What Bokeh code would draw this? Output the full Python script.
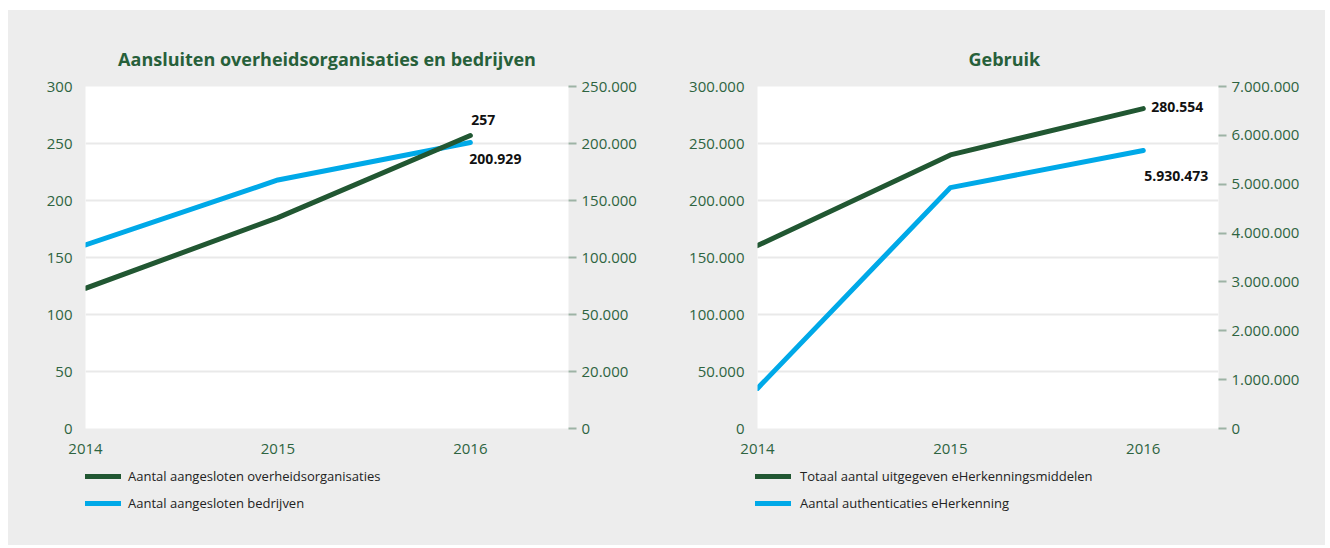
from bokeh.plotting import figure
from bokeh.models import Range1d, LinearAxis, FixedTicker, Legend, LegendItem
from bokeh.layouts import row, column
from bokeh.embed import file_html
from bokeh.resources import INLINE
from bokeh.core.properties import value

# ---------------- data ----------------
years = [2014, 2015, 2016]

# Chart 1: Aansluiten overheidsorganisaties en bedrijven
title_1 = "Aansluiten overheidsorganisaties en bedrijven"
overheid_name = "Aantal aangesloten overheidsorganisaties"
overheid = [123, 185, 257]
bedrijven_name = "Aantal aangesloten bedrijven"
bedrijven = [111000, 168000, 200929]
c1_left_ticks = [0, 50, 100, 150, 200, 250, 300]
c1_right_ticks = [-50000, 0, 50000, 100000, 150000, 200000, 250000]
c1_right_labels = ["0", "20.000", "50.000", "100.000", "150.000", "200.000", "250.000"]
c1_end_labels = ["257", "200.929"]

# Chart 2: Gebruik
title_2 = "Gebruik"
middelen_name = "Totaal aantal uitgegeven eHerkenningsmiddelen"
middelen = [160500, 240000, 280554]
auth_name = "Aantal authenticaties eHerkenning"
authenticaties = [820000, 4930000, 5690000]
c2_left_ticks = [0, 50000, 100000, 150000, 200000, 250000, 300000]
c2_right_ticks = [0, 1000000, 2000000, 3000000, 4000000, 5000000, 6000000, 7000000]
c2_end_labels = ["280.554", "5.930.473"]

# ---------------- style ----------------
FONT = "Open Sans"
BG = "#ededed"
DARK = "#215732"
BLUE = "#00a9e8"
TICK_TXT = "#2e6441"
TITLE_TXT = "#27603a"
GRID = "#e9e9e9"


def nl(v):
    return f"{int(v):,}".replace(",", ".")


def base_fig(width, left, right, x_end, y_end, title, t_align, t_offset):
    p = figure(width=width, height=452, output_backend="svg", toolbar_location=None,
               x_range=Range1d(2014, x_end), y_range=Range1d(0, y_end),
               min_border_left=left, min_border_right=right,
               min_border_top=76, min_border_bottom=34,
               background_fill_color="white", border_fill_color=BG,
               outline_line_color=None, title=title)
    p.title.align = t_align
    p.title.offset = t_offset
    p.title.text_font = FONT
    p.title.text_font_size = "18px"
    p.title.text_font_style = "bold"
    p.title.text_color = TITLE_TXT
    p.title.standoff = 31
    p.xgrid.visible = False
    p.ygrid.grid_line_color = GRID
    p.ygrid.grid_line_width = 2
    xa = p.xaxis[0]
    xa.ticker = FixedTicker(ticks=years)
    xa.major_label_overrides = {y: str(y) for y in years}
    xa.axis_line_color = None
    xa.major_tick_line_color = None
    xa.major_tick_out = 0
    xa.major_tick_in = 0
    xa.minor_tick_line_color = None
    xa.major_label_standoff = 15
    xa.major_label_text_font = FONT
    xa.major_label_text_font_size = "15px"
    xa.major_label_text_color = TICK_TXT
    ya = p.yaxis[0]
    ya.axis_line_color = None
    ya.major_tick_line_color = None
    ya.major_tick_out = 0
    ya.major_tick_in = 0
    ya.minor_tick_line_color = None
    ya.major_label_standoff = 13
    ya.major_label_text_font = FONT
    ya.major_label_text_font_size = "15px"
    ya.major_label_text_color = TICK_TXT
    return p


def right_axis(p, ticks, labels):
    ax = LinearAxis(y_range_name="r", ticker=FixedTicker(ticks=ticks),
                    major_label_overrides=dict(zip(ticks, labels)))
    ax.axis_line_color = None
    ax.major_tick_line_color = "#9db3a5"
    ax.major_tick_line_width = 2
    ax.major_tick_in = 0
    ax.major_tick_out = 8
    ax.minor_tick_line_color = None
    ax.major_label_standoff = 5
    ax.major_label_text_font = FONT
    ax.major_label_text_font_size = "15px"
    ax.major_label_text_color = TICK_TXT
    p.add_layout(ax, "right")


def legend_fig(width, names, series, colors, vx, standoff):
    # legend strip under a chart; the series are drawn off-view only so
    # that the legend can show their line style
    lf = figure(width=width, height=83, output_backend="svg", toolbar_location=None,
                x_range=Range1d(0, 1), y_range=Range1d(0, 1),
                min_border=0, background_fill_color=BG, border_fill_color=BG,
                outline_line_color=None)
    lf.axis.visible = False
    lf.grid.visible = False
    items = []
    for nm, ys, c in zip(names, series, colors):
        r = lf.line(years, ys, line_color=c, line_width=5, line_cap="round")
        items.append(LegendItem(label=nm, renderers=[r]))
    lg = Legend(items=items, location=(vx, 32), orientation="vertical",
                glyph_width=36, glyph_height=20, label_height=20, spacing=7,
                padding=0, margin=0, label_standoff=standoff,
                label_text_font=FONT, label_text_font_size="13px",
                label_text_color="#222222",
                background_fill_alpha=0, border_line_alpha=0)
    lf.add_layout(lg)
    return lf


def end_label(p, x, y, text, align, dx, dy, rng="default"):
    p.text(x=[x], y=[y], text=[text], y_range_name=rng,
           text_font=value(FONT), text_font_style="bold", text_font_size="14px",
           text_color="#111111", text_align=align, text_baseline="middle",
           x_offset=dx, y_offset=dy)


# ---------------- chart 1 ----------------
p1 = base_fig(660, 77, 100, 2016.51, 300, title_1, "center", 0)
p1.extra_y_ranges = {"r": Range1d(-50000, 250000)}
p1.yaxis[0].ticker = FixedTicker(ticks=c1_left_ticks)
p1.yaxis[0].major_label_overrides = {t: nl(t) for t in c1_left_ticks}
p1.ygrid.ticker = FixedTicker(ticks=c1_left_ticks)
right_axis(p1, c1_right_ticks, c1_right_labels)

p1.line(years, bedrijven, y_range_name="r", line_color=BLUE, line_width=5,
        line_cap="round", line_join="round")
p1.line(years, overheid, line_color=DARK, line_width=5,
        line_cap="round", line_join="round")
end_label(p1, years[-1], overheid[-1], c1_end_labels[0], "left", 1, -16)
end_label(p1, years[-1], bedrijven[-1], c1_end_labels[1], "left", -1, 17, "r")
l1 = legend_fig(660, [overheid_name, bedrijven_name], [overheid, bedrijven],
                [DARK, BLUE], 77, 7)

# ---------------- chart 2 ----------------
p2 = base_fig(657, 89, 107, 2016.39, 300000, title_2, "left", 211)
p2.extra_y_ranges = {"r": Range1d(0, 7000000)}
p2.yaxis[0].ticker = FixedTicker(ticks=c2_left_ticks)
p2.yaxis[0].major_label_overrides = {t: nl(t) for t in c2_left_ticks}
p2.ygrid.ticker = FixedTicker(ticks=c2_left_ticks)
right_axis(p2, c2_right_ticks, [nl(t) for t in c2_right_ticks])

p2.line(years, authenticaties, y_range_name="r", line_color=BLUE, line_width=5,
        line_cap="round", line_join="round")
p2.line(years, middelen, line_color=DARK, line_width=5,
        line_cap="round", line_join="round")
end_label(p2, years[-1], middelen[-1], c2_end_labels[0], "left", 8, -2)
end_label(p2, years[-1], authenticaties[-1], c2_end_labels[1], "right", 65, 25, "r")
l2 = legend_fig(657, [middelen_name, auth_name], [middelen, authenticaties],
                [DARK, BLUE], 87, 9)

bg = {"background-color": BG}
layout = column(row(p1, p2, styles=bg), row(l1, l2, styles=bg),
                margin=(10, 0, 0, 8), styles=bg)
open("out.html", "w").write(file_html(layout, INLINE))
